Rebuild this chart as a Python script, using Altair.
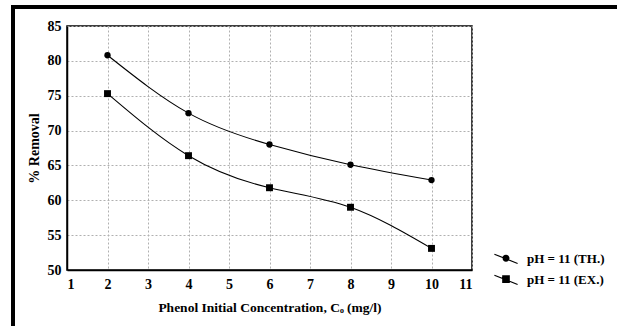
import altair as alt
import pandas as pd

conc = [2, 4, 6, 8, 10]
th_values = [80.8, 72.5, 68.0, 65.1, 62.9]
ex_values = [75.3, 66.4, 61.8, 59.0, 53.1]
series_names = ["pH = 11 (TH.)", "pH = 11 (EX.)"]
x_ticks = list(range(1, 12))
y_ticks = list(range(50, 90, 5))

rows = []
for name, vals in zip(series_names, [th_values, ex_values]):
    for c, v in zip(conc, vals):
        rows.append({"x": c, "y": v, "series": name})
df = pd.DataFrame(rows)

FONT = "Liberation Serif"

x_enc = alt.X("x:Q", scale=alt.Scale(domain=[1, 11], nice=False),
              axis=alt.Axis(values=x_ticks, title="Phenol Initial Concentration,  Cₒ (mg/l)",
                            format="d"))
y_enc = alt.Y("y:Q", scale=alt.Scale(domain=[50, 85], nice=False, zero=False),
              axis=alt.Axis(values=y_ticks, title="% Removal", format="d", tickCount=8))

base = alt.Chart(df)

lines = base.mark_line(interpolate="natural", color="black", strokeWidth=1.1).encode(
    x=x_enc, y=y_enc, detail="series:N"
)

points = base.mark_point(filled=True, color="black", opacity=1).encode(
    x=x_enc, y=y_enc,
    shape=alt.Shape("series:N", scale=alt.Scale(domain=series_names, range=["circle", "square"]),
                    legend=None),
    size=alt.Size("series:N", scale=alt.Scale(domain=series_names, range=[40, 48]), legend=None),
)


def ring(r, cy):
    return (f"M{r},{cy} A{r},{r} 0 1,1 {-r},{cy} A{r},{r} 0 1,1 {r},{cy} Z ")


def box(h, cy):
    return (f"M{-h},{cy - h} L{h},{cy - h} L{h},{cy + h} L{-h},{cy + h} Z ")


diag = "M-1.45,-0.6 L1.45,0.55 "
circle_sym = diag + "".join(ring(r, -0.1) for r in [0.05, 0.13, 0.21, 0.29, 0.37])
square_sym = diag + "".join(box(h, -0.1) for h in [0.05, 0.14, 0.23, 0.32, 0.41])

legend_layer = base.transform_filter(alt.datum.x > 1000).mark_point(
    filled=False, stroke="black", strokeWidth=1.1, opacity=1
).encode(
    x=x_enc, y=y_enc,
    shape=alt.Shape("series:N",
                    scale=alt.Scale(domain=series_names, range=[circle_sym, square_sym]),
                    legend=alt.Legend(title=None, orient="none", legendX=430, legendY=224,
                                      symbolSize=256, symbolFillColor="black",
                                      symbolStrokeColor="black", symbolStrokeWidth=1.1,
                                      symbolOpacity=1, labelOffset=12, rowPadding=5,
                                      padding=0, labelFont=FONT, labelFontSize=13,
                                      labelFontWeight="bold", labelColor="black")),
)

frame_data = alt.Data(values=[{"k": 1}])
left_bar = alt.Chart(frame_data).mark_rule(color="black", strokeWidth=4).encode(
    x=alt.value(-54), y=alt.value(-21), y2=alt.value(400)
)
top_bar = alt.Chart(frame_data).mark_rule(color="black", strokeWidth=4).encode(
    x=alt.value(-56), x2=alt.value(700), y=alt.value(-19)
)

chart = alt.layer(lines, points, legend_layer, left_bar, top_bar).resolve_scale(
    shape="independent", size="independent"
).properties(
    width=405, height=244,
    autosize=alt.AutoSizeParams(type="none"),
    padding={"left": 67, "top": 26, "right": 145, "bottom": 56},
    background="white",
).configure_view(
    stroke="black", strokeWidth=1.5
).configure_axis(
    labelFont=FONT, labelFontSize=14, labelFontWeight="bold", labelColor="black",
    titleFont=FONT, titleFontSize=13.5, titleFontWeight="bold", titleColor="black",
    domainColor="black", domainWidth=1.5,
    ticks=False, labelOverlap=False,
    grid=True, gridColor="#b0b0b0", gridDash=[2, 2], gridWidth=1,
).configure_axisX(
    labelPadding=7, titlePadding=9,
).configure_axisY(
    labelPadding=6, titlePadding=6, titleFontSize=14,
)

chart.save("out.html", embed_options={"renderer": "svg", "actions": False})
